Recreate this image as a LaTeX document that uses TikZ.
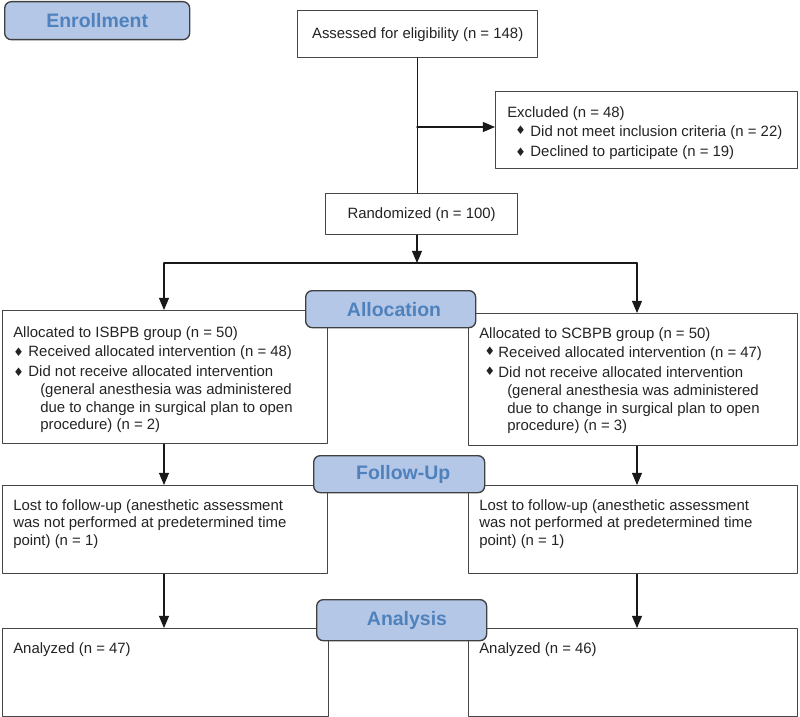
\documentclass[tikz,border=0pt]{standalone}
\usepackage{fontspec}
\setmainfont{Liberation Sans}
\newfontfamily\symfont{DejaVu Sans}
\usetikzlibrary{arrows}
\definecolor{phasefill}{RGB}{180,199,231}
\definecolor{phasetext}{RGB}{79,129,189}
\definecolor{phaseline}{RGB}{64,64,64}
\definecolor{boxline}{RGB}{70,70,70}
\definecolor{txtcol}{RGB}{35,35,35}
\newcommand{\dia}{{\symfont\fontsize{8.8}{8.8}\selectfont ♦}}
\newcommand{\diaup}{\raisebox{1.5pt}{\dia}}
\tikzset{
	grpbox/.style={draw=boxline,line width=1pt,inner sep=0pt,anchor=north west,text=txtcol,font=\fontsize{11.2}{13.3}\selectfont},
	phase/.style={draw=phaseline,fill=phasefill,line width=1pt,rounded corners=5pt,inner sep=0pt,anchor=north west,text=phasetext,font=\fontsize{14.6}{17}\selectfont\bfseries},
	txt/.style={inner sep=0pt,anchor=north west,align=left,text=txtcol,font=\fontsize{11.2}{13.3}\selectfont},
	flow/.style={line width=1.1pt,draw=black!90}
}
\begin{document}
\begin{tikzpicture}[line cap=round,line join=round,>=triangle 45,x=0.75pt,y=-0.75pt]
		\useasboundingbox (0,0) rectangle (800,717);
		% boxes
		\node[grpbox,minimum width=180pt,minimum height=35.25pt] (assess) at (297,10) {Assessed for eligibility (n = 148)};
		\node[grpbox,minimum width=226.5pt,minimum height=57.75pt] (excl) at (495,91) {};
		\node[grpbox,minimum width=144pt,minimum height=30.75pt] (rand) at (325,193) {Randomized (n = 100)};
		\node[grpbox,minimum width=243.75pt,minimum height=99.75pt] (alloL) at (2,310) {};
		\node[grpbox,minimum width=246.75pt,minimum height=99pt] (alloR) at (468,313) {};
		\node[grpbox,minimum width=243.75pt,minimum height=66pt] (lostL) at (2,485) {};
		\node[grpbox,minimum width=246.75pt,minimum height=66pt] (lostR) at (468,485) {};
		\node[grpbox,minimum width=244.5pt,minimum height=66pt] (anaL) at (2,628) {};
		\node[grpbox,minimum width=246.75pt,minimum height=66pt] (anaR) at (468,628) {};
		% texts
		\node[txt] (exclT) at (507,106) {Excluded (n = 48)\\[1.5pt]
			\hspace*{6pt}\diaup\hspace{3.5pt}Did not meet inclusion criteria (n = 22)\\[1.5pt]
			\hspace*{6pt}\dia\hspace{3.5pt}Declined to participate (n = 19)};
		\node[txt] (alloLT) at (13,326) {Allocated to ISBPB group (n = 50)\\[1.5pt]
			\dia\hspace{3.5pt}Received allocated intervention (n = 48)\\[1.5pt]
			\dia\hspace{3.5pt}Did not receive allocated intervention\\
			\hspace*{20.25pt}(general anesthesia was administered\\
			\hspace*{20.25pt}due to change in surgical plan to open\\
			\hspace*{20.25pt}procedure) (n = 2)};
		\node[txt] (alloRT) at (479,327) {Allocated to SCBPB group (n = 50)\\[1.5pt]
			\hspace*{4pt}\diaup\hspace{2.5pt}Received allocated intervention (n = 47)\\[1.5pt]
			\hspace*{4pt}\diaup\hspace{2.5pt}Did not receive allocated intervention\\
			\hspace*{21pt}(general anesthesia was administered\\
			\hspace*{21pt}due to change in surgical plan to open\\
			\hspace*{21pt}procedure) (n = 3)};
		\node[txt] (lostLT) at (13,499) {Lost to follow-up (anesthetic assessment\\
			was not performed at predetermined time\\
			point) (n = 1)};
		\node[txt] (lostRT) at (479,499) {Lost to follow-up (anesthetic assessment\\
			was not performed at predetermined time\\
			point) (n = 1)};
		\node[txt] (anaLT) at (13,642) {Analyzed (n = 47)};
		\node[txt] (anaRT) at (479,642) {Analyzed (n = 46)};
		% phase labels
		\node[phase,minimum width=138.75pt,minimum height=28.5pt] (enroll) at (4,1) {Enrollment};
		\node[phase,minimum width=127.5pt,minimum height=27.75pt] (alloc) at (305,290) {\hspace*{5pt}Allocation};
		\node[phase,minimum width=128.25pt,minimum height=27.75pt] (follow) at (313,455) {\hspace*{6pt}Follow-Up};
		\node[phase,minimum width=127.5pt,minimum height=30.75pt] (analysis) at (316,599) {\hspace*{8pt}Analysis};
		% connectors
		\coordinate (brE) at (417,127);
		\coordinate (split) at (417,263);
		\coordinate (colL) at (164,0);
		\coordinate (colR) at (637,0);
		\draw[flow] (assess.south) -- (assess.south |- rand.north);
		\draw[flow,->] (brE) -- (brE -| excl.west);
		\draw[flow,->] (rand.south -| split) -- (split);
		\draw[flow] (split -| colL) -- (split -| colR);
		\draw[flow,->] (split -| colL) -- (alloL.north -| colL);
		\draw[flow,->] (split -| colR) -- (alloR.north -| colR);
		\draw[flow,->] (alloL.south -| colL) -- (lostL.north -| colL);
		\draw[flow,->] (alloR.south -| colR) -- (lostR.north -| colR);
		\draw[flow,->] (lostL.south -| colL) -- (anaL.north -| colL);
		\draw[flow,->] (lostR.south -| colR) -- (anaR.north -| colR);
	\end{tikzpicture}
\end{document}
